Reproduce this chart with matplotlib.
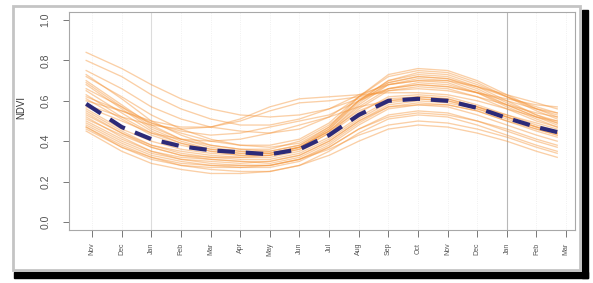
import numpy as np
import matplotlib
matplotlib.use("Agg")
import matplotlib.pyplot as plt
from matplotlib.patches import Rectangle

plt.rcParams['font.family'] = ['Liberation Sans', 'DejaVu Sans']

months = ['Nov', 'Dec', 'Jan', 'Feb', 'Mar', 'Apr', 'May', 'Jun', 'Jul',
          'Aug', 'Sep', 'Oct', 'Nov', 'Dec', 'Jan', 'Feb', 'Mar']

# sample positions (month index, Nov = 0)
xs = [-0.2, 1, 2, 3, 4, 5, 6, 7, 8, 9, 10, 11, 12, 13, 14, 15, 15.7]

# individual NDVI profiles
lower = [
    [0.52, 0.42, 0.35, 0.31, 0.29, 0.28, 0.28, 0.31, 0.38, 0.48, 0.56, 0.58, 0.57, 0.53, 0.48, 0.43, 0.40],
    [0.48, 0.39, 0.33, 0.30, 0.28, 0.27, 0.27, 0.30, 0.37, 0.46, 0.53, 0.55, 0.54, 0.50, 0.45, 0.40, 0.37],
    [0.55, 0.45, 0.38, 0.34, 0.32, 0.31, 0.31, 0.34, 0.41, 0.51, 0.59, 0.61, 0.60, 0.56, 0.51, 0.46, 0.43],
    [0.50, 0.41, 0.35, 0.32, 0.31, 0.30, 0.29, 0.32, 0.39, 0.49, 0.57, 0.59, 0.58, 0.55, 0.50, 0.45, 0.42],
    [0.47, 0.37, 0.31, 0.28, 0.26, 0.25, 0.25, 0.28, 0.35, 0.44, 0.51, 0.53, 0.52, 0.48, 0.43, 0.38, 0.35],
    [0.53, 0.44, 0.38, 0.35, 0.33, 0.32, 0.32, 0.35, 0.42, 0.52, 0.60, 0.62, 0.61, 0.57, 0.52, 0.47, 0.44],
    [0.56, 0.46, 0.40, 0.36, 0.34, 0.33, 0.33, 0.36, 0.44, 0.54, 0.62, 0.63, 0.62, 0.58, 0.53, 0.48, 0.45],
    [0.49, 0.40, 0.34, 0.31, 0.30, 0.29, 0.30, 0.33, 0.40, 0.50, 0.58, 0.60, 0.59, 0.56, 0.52, 0.47, 0.44],
    [0.46, 0.37, 0.32, 0.29, 0.28, 0.28, 0.28, 0.31, 0.36, 0.43, 0.48, 0.50, 0.49, 0.46, 0.42, 0.37, 0.34],
    [0.51, 0.43, 0.37, 0.33, 0.31, 0.30, 0.30, 0.33, 0.40, 0.50, 0.57, 0.58, 0.58, 0.55, 0.50, 0.46, 0.43],
    [0.54, 0.44, 0.37, 0.33, 0.32, 0.32, 0.33, 0.37, 0.45, 0.55, 0.61, 0.62, 0.61, 0.57, 0.52, 0.47, 0.44],
    [0.47, 0.38, 0.32, 0.28, 0.27, 0.27, 0.28, 0.31, 0.37, 0.46, 0.52, 0.54, 0.53, 0.50, 0.46, 0.41, 0.38],
    [0.45, 0.35, 0.29, 0.26, 0.24, 0.24, 0.25, 0.28, 0.33, 0.40, 0.46, 0.48, 0.47, 0.44, 0.40, 0.35, 0.32],
]
upper = [
    [0.73, 0.61, 0.50, 0.43, 0.38, 0.36, 0.35, 0.38, 0.46, 0.60, 0.70, 0.73, 0.72, 0.67, 0.60, 0.53, 0.50],
    [0.70, 0.58, 0.48, 0.41, 0.37, 0.35, 0.34, 0.37, 0.45, 0.58, 0.68, 0.71, 0.70, 0.65, 0.58, 0.52, 0.48],
    [0.68, 0.56, 0.46, 0.40, 0.36, 0.34, 0.34, 0.37, 0.46, 0.59, 0.69, 0.72, 0.71, 0.66, 0.59, 0.53, 0.49],
    [0.72, 0.62, 0.53, 0.46, 0.41, 0.38, 0.37, 0.39, 0.47, 0.62, 0.73, 0.76, 0.75, 0.70, 0.63, 0.56, 0.52],
    [0.65, 0.54, 0.45, 0.39, 0.35, 0.33, 0.33, 0.36, 0.44, 0.56, 0.65, 0.67, 0.66, 0.62, 0.56, 0.50, 0.47],
    [0.63, 0.52, 0.44, 0.39, 0.36, 0.35, 0.35, 0.38, 0.47, 0.60, 0.70, 0.74, 0.73, 0.68, 0.62, 0.56, 0.53],
    [0.66, 0.57, 0.49, 0.44, 0.40, 0.38, 0.38, 0.41, 0.49, 0.62, 0.72, 0.75, 0.74, 0.69, 0.62, 0.55, 0.51],
    [0.61, 0.51, 0.43, 0.38, 0.35, 0.34, 0.34, 0.37, 0.45, 0.57, 0.66, 0.69, 0.68, 0.64, 0.58, 0.52, 0.49],
    [0.69, 0.57, 0.47, 0.41, 0.38, 0.36, 0.36, 0.40, 0.48, 0.60, 0.68, 0.70, 0.69, 0.64, 0.57, 0.51, 0.47],
]
odd = [
    [0.84, 0.76, 0.68, 0.61, 0.56, 0.53, 0.52, 0.53, 0.56, 0.61, 0.66, 0.68, 0.67, 0.64, 0.61, 0.58, 0.57],
    [0.80, 0.72, 0.63, 0.56, 0.51, 0.48, 0.48, 0.51, 0.56, 0.63, 0.68, 0.70, 0.70, 0.67, 0.63, 0.59, 0.56],
    [0.60, 0.55, 0.50, 0.47, 0.47, 0.50, 0.55, 0.59, 0.60, 0.62, 0.65, 0.66, 0.65, 0.62, 0.58, 0.54, 0.52],
    [0.58, 0.52, 0.48, 0.46, 0.47, 0.51, 0.57, 0.61, 0.62, 0.63, 0.64, 0.64, 0.63, 0.60, 0.56, 0.52, 0.50],
    [0.62, 0.55, 0.49, 0.45, 0.43, 0.44, 0.47, 0.50, 0.53, 0.60, 0.66, 0.68, 0.67, 0.64, 0.60, 0.56, 0.54],
    [0.57, 0.50, 0.44, 0.41, 0.40, 0.41, 0.44, 0.48, 0.52, 0.57, 0.60, 0.61, 0.60, 0.57, 0.53, 0.49, 0.46],
    [0.75, 0.66, 0.57, 0.51, 0.47, 0.45, 0.44, 0.46, 0.52, 0.62, 0.69, 0.72, 0.71, 0.67, 0.62, 0.57, 0.54],
]

# mean profile (dashed)
mean_ndvi = [0.585, 0.47, 0.41, 0.375, 0.355, 0.345, 0.335, 0.36, 0.43, 0.53,
             0.60, 0.61, 0.60, 0.565, 0.515, 0.47, 0.445]

W, H = 593, 283
fig = plt.figure(figsize=(W / 100, H / 100), dpi=100)
fig.patch.set_facecolor('white')

# scanned frame: grey border + black drop shadow
fig.patches.append(Rectangle((582 / W, 1 - 278 / H), 6 / W, 268 / H,
                             transform=fig.transFigure, color='black', zorder=0))
fig.patches.append(Rectangle((14 / W, 1 - 278 / H), 574 / W, 6 / H,
                             transform=fig.transFigure, color='black', zorder=0))
fig.patches.append(Rectangle((13 / W, 1 - 270 / H), 567 / W, 264 / H,
                             transform=fig.transFigure, fill=False,
                             edgecolor='#c4c4c4', lw=2.0, zorder=1))

ax = fig.add_axes([69 / W, 1 - 230 / H, 506 / W, 218 / H])

for i in range(len(months)):
    if months[i] == 'Jan':
        continue
    ax.axvline(i, color='#ececec', lw=0.6, ls=':', zorder=0)
ax.axvline(2, color='#dcdcdc', lw=0.8, zorder=0)
ax.axvline(14, color='#b8b8b8', lw=0.8, zorder=0)

for curve in lower + upper + odd:
    ax.plot(xs, curve, color='#f5953a', alpha=0.45, lw=0.95, zorder=2)

ax.plot(xs, mean_ndvi, color='#2c2a78', lw=3.0, ls=(0, (4.2, 2.6)),
        dash_capstyle='butt', zorder=3)

ax.set_xlim(-0.78, 16.3)
ax.set_ylim(-0.04, 1.04)
ax.set_xticks(range(len(months)))
ax.set_xticklabels(months, rotation=90, fontsize=5, color='#555555')
ax.set_yticks([0.0, 0.2, 0.4, 0.6, 0.8, 1.0])
ax.set_yticklabels(['0.0', '0.2', '0.4', '0.6', '0.8', '1.0'], rotation=90,
                   fontsize=7.5, color='#555555', va='center')
ax.tick_params(axis='x', length=5, width=0.7, color='#777777', pad=4)
ax.tick_params(axis='y', length=4.5, width=0.7, color='#777777', pad=9)
ax.set_ylabel('NDVI', fontsize=7, color='#333333')
ax.yaxis.set_label_coords(-0.085, 0.56)

for s in ax.spines.values():
    s.set_color('#a8a8a8')
    s.set_linewidth(0.8)

fig.savefig('out.png', dpi=100)
